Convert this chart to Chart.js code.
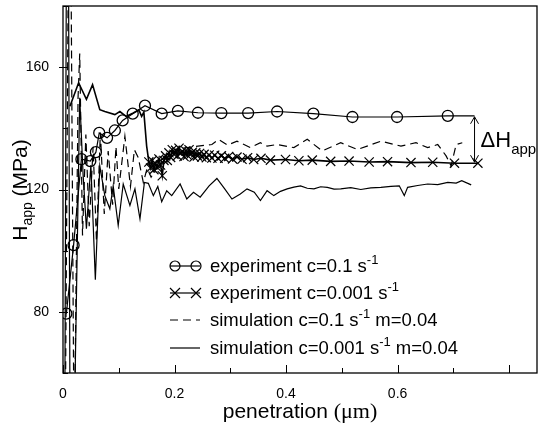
<!DOCTYPE html>
<html><head><meta charset="utf-8">
<script src="https://cdn.jsdelivr.net/npm/chart.js@4/dist/chart.umd.min.js"></script>
<style>html,body{margin:0;padding:0;background:#fff;}canvas{display:block;}</style>
</head><body>
<canvas id="c" width="538" height="433"></canvas>
<script>
// ---------- data ----------
const expFastX = [0.006,0.019,0.033,0.049,0.059,0.065,0.079,0.093,0.107,0.125,0.147,0.177,0.206,0.242,0.284,0.332,0.384,0.449,0.519,0.599,0.690,0.738];
const expFastY = [79.4,101.8,129.9,129.3,132.2,138.5,136.9,139.3,142.6,144.8,147.4,144.8,145.7,145.1,145.0,145.0,145.5,144.8,143.7,143.7,144.1,144.1];

const expSlowX = [0.0125,0.028,0.042,0.053,0.066,0.075,0.093,0.102,0.113,0.126,0.136,0.141,0.145,0.150,0.154,
  0.157,0.160,0.163,0.166,0.169,0.172,0.175,0.178,0.181,0.184,0.187,0.190,0.193,0.196,0.199,0.202,0.205,0.208,0.211,0.214,0.217,0.220,0.223,0.226,0.229,0.232,0.235,0.238,0.241,0.245,0.249,0.253,0.257,0.262,0.267,0.272,0.278,0.284,0.290,0.297,0.304,0.312,0.321,0.331,0.342,0.355,0.372,0.399,0.423,0.447,0.480,0.513,0.549,0.582,0.624,0.663,0.702,0.744];
const expSlowY = [147.2,154.9,149.5,154.3,146.1,145.5,144.5,145.5,143.9,145.0,146.0,143.9,145.3,134.2,129.0,
  127.0,129.5,126.5,128.5,127.2,130.0,128.0,124.5,129.5,131.0,129.5,132.0,130.5,133.0,131.5,132.8,131.0,133.5,131.8,132.5,130.8,132.6,131.2,133.0,131.5,132.2,130.6,132.0,131.0,131.8,130.6,131.5,130.4,131.3,130.3,131.2,130.2,131.0,130.2,130.8,130.0,130.6,129.9,130.4,129.8,130.2,129.6,129.8,129.4,129.6,129.2,129.3,129.0,129.1,128.8,128.9,128.6,128.6];

const simFastX = [0.004,0.012,0.020,0.027,0.030,0.035,0.041,0.047,0.054,0.060,0.067,0.074,0.081,0.089,0.095,0.100,0.111,0.121,0.128,0.135,0.144,0.151,0.158,0.166,0.175,0.187,0.200,0.215,0.235,0.255,0.267,0.279,0.295,0.312,0.336,0.354,0.366,0.384,0.414,0.438,0.465,0.498,0.528,0.550,0.570,0.606,0.633,0.654,0.672,0.687,0.696,0.705,0.716];
const simFastY = [40,260,30,150,164.5,105,138,108,134,103,138.6,112,132.6,115,134,120.2,137.4,121,133,130.4,122.3,127,124,126.5,129.5,131.5,133,133.5,134,134.5,134.7,136.4,134.5,135.8,133.7,135.3,134.2,134.7,133.7,136.4,132.6,135.3,133.1,134.5,135.8,134.2,135.3,133.7,134.7,131,127.7,134.7,135.3];

const simSlowX = [0.003,0.008,0.013,0.020,0.030,0.036,0.042,0.050,0.058,0.066,0.075,0.084,0.090,0.099,0.108,0.120,0.129,0.138,0.146,0.153,0.162,0.170,0.177,0.186,0.195,0.210,0.222,0.234,0.246,0.262,0.276,0.290,0.303,0.318,0.330,0.343,0.354,0.366,0.378,0.390,0.402,0.414,0.426,0.438,0.450,0.462,0.474,0.486,0.498,0.516,0.534,0.552,0.570,0.588,0.603,0.612,0.618,0.636,0.654,0.672,0.690,0.705,0.715,0.732];
const simSlowY = [30,300,20,40,150,125,107.2,128,90.5,127.7,118,113.7,121.2,108.3,121.8,114.8,120.2,110.4,122.3,122,118,121,116,119.6,118,121.8,116.9,119.1,117.5,121.2,123.6,120.2,116.9,118.5,120.2,119.1,116.4,119.6,118.0,119.4,120.2,120.8,121.2,120.4,120.2,120.9,120.7,120.1,120.2,120.6,120.0,120.5,120.7,121.0,121.2,118.0,120.7,121.3,121.8,121.6,122.3,122.1,122.9,121.5];

const xTickLabels = [0, 0.2, 0.4, 0.6, 0.8];
const yTickLabels = [80, 120, 160];
const legendLabels = [
  ['experiment c=0.1 s', '-1', ''],
  ['experiment c=0.001 s', '-1', ''],
  ['simulation c=0.1 s', '-1', ' m=0.04'],
  ['simulation c=0.001 s', '-1', ' m=0.04']
];

const SANS = "'Liberation Sans', Arial, Helvetica, sans-serif";
const SERIF = "'Liberation Serif', 'Times New Roman', serif";
const pts = (xs, ys) => xs.map((x, i) => ({x: x, y: ys[i]}));

function drawParts(ctx, parts, x, y) {
  let cx = x;
  for (const p of parts) {
    ctx.font = p[1] + 'px ' + (p[3] || SANS);
    ctx.fillText(p[0], cx, y + p[2]);
    cx += ctx.measureText(p[0]).width;
  }
  return cx;
}
function partsWidth(ctx, parts) {
  let w = 0;
  for (const p of parts) { ctx.font = p[1] + 'px ' + (p[3] || SANS); w += ctx.measureText(p[0]).width; }
  return w;
}

const decor = {
  id: 'decor',
  afterDraw(chart) {
    const ctx = chart.ctx, a = chart.chartArea, xs = chart.scales.x, ys = chart.scales.y;
    ctx.save();
    ctx.strokeStyle = '#000'; ctx.fillStyle = '#000';
    ctx.lineWidth = 1.3;
    ctx.strokeRect(a.left, a.top, a.right - a.left, a.bottom - a.top);
    ctx.lineWidth = 1;
    for (let i = 0; i <= 8; i++) {
      const v = i / 10, px = Math.round(xs.getPixelForValue(v)) + 0.5;
      const len = (i % 2 === 0) ? 8 : 5;
      ctx.beginPath(); ctx.moveTo(px, a.bottom); ctx.lineTo(px, a.bottom - len); ctx.stroke();
    }
    for (let v = 60; v <= 180; v += 20) {
      const py = Math.round(ys.getPixelForValue(v)) + 0.5;
      const major = yTickLabels.includes(v);
      ctx.beginPath();
      ctx.moveTo(a.left - (major ? 4 : 0), py); ctx.lineTo(a.left + 5, py); ctx.stroke();
    }
    ctx.textBaseline = 'alphabetic';
    const xt = [['penetration ', 21, 0], ['(\u03bcm)', 22, 0, SERIF]];
    const xw = partsWidth(ctx, xt);
    drawParts(ctx, xt, (a.left + a.right) / 2 - xw / 2, 418);
    ctx.save();
    ctx.translate(27, 0); ctx.rotate(-Math.PI / 2);
    const yt = [['H', 21, 0], ['app', 14, 5], [' (MPa)', 21, 0]];
    const yw = partsWidth(ctx, yt);
    drawParts(ctx, yt, -(190) - yw / 2, 0);
    ctx.restore();
    const rowY = [266, 293, 320, 348];
    ctx.lineWidth = 1.2;
    for (let r = 0; r < 4; r++) {
      const y = rowY[r];
      ctx.setLineDash(r === 2 ? [8, 5] : []);
      ctx.beginPath(); ctx.moveTo(170, y); ctx.lineTo(200, y); ctx.stroke();
      ctx.setLineDash([]);
      if (r === 0) {
        ctx.beginPath(); ctx.arc(175, y, 5, 0, Math.PI * 2); ctx.stroke();
        ctx.beginPath(); ctx.arc(196, y, 5, 0, Math.PI * 2); ctx.stroke();
      } else if (r === 1) {
        for (const cx of [175, 196]) {
          ctx.beginPath();
          ctx.moveTo(cx - 5, y - 5); ctx.lineTo(cx + 5, y + 5);
          ctx.moveTo(cx - 5, y + 5); ctx.lineTo(cx + 5, y - 5); ctx.stroke();
        }
      }
      const L = legendLabels[r];
      drawParts(ctx, [[L[0], 18.5, 0], [L[1], 13, -8], [L[2], 18.5, 0]], 210, y + 6);
    }
    const ax = xs.getPixelForValue(expFastX[expFastX.length - 1]);
    const yTop = ys.getPixelForValue(expFastY[expFastY.length - 1]);
    const yBot = ys.getPixelForValue(expSlowY[expSlowY.length - 1]);
    ctx.lineWidth = 1;
    ctx.beginPath(); ctx.moveTo(ax, yTop + 1); ctx.lineTo(ax, yBot - 1); ctx.stroke();
    ctx.beginPath();
    ctx.moveTo(ax - 4, yTop + 8); ctx.lineTo(ax, yTop + 1); ctx.lineTo(ax + 4, yTop + 8);
    ctx.moveTo(ax - 4, yBot - 8); ctx.lineTo(ax, yBot - 1); ctx.lineTo(ax + 4, yBot - 8);
    ctx.stroke();
    drawParts(ctx, [['\u0394H', 22, 0], ['app', 15, 7]], ax + 6, (yTop + yBot) / 2 + 8);
    ctx.restore();
  }
};

new Chart(document.getElementById('c'), {
  type: 'line',
  data: {
    datasets: [
      { label: 'experiment c=0.1 s-1', data: pts(expFastX, expFastY), borderColor: '#000', borderWidth: 1.2,
        pointStyle: 'circle', pointRadius: expFastX.map((x, i) => i === expFastX.length - 1 ? 0 : 5.5),
        pointBorderWidth: 1.3, pointBorderColor: '#000', pointBackgroundColor: 'rgba(0,0,0,0)', tension: 0 },
      { label: 'experiment c=0.001 s-1', data: pts(expSlowX, expSlowY), borderColor: '#000', borderWidth: 1.6,
        pointStyle: 'crossRot', pointRadius: ctx => (ctx.raw && ctx.raw.x < 0.152) ? 0 : 6.5,
        pointBorderWidth: 1.2, pointBorderColor: '#000', tension: 0 },
      { label: 'simulation c=0.1 s-1 m=0.04', data: pts(simFastX, simFastY), borderColor: '#000', borderWidth: 1.2,
        borderDash: [8, 5], pointRadius: 0, tension: 0 },
      { label: 'simulation c=0.001 s-1 m=0.04', data: pts(simSlowX, simSlowY), borderColor: '#000', borderWidth: 1.2,
        pointRadius: 0, tension: 0 }
    ]
  },
  options: {
    responsive: false, animation: false, devicePixelRatio: 1,
    layout: { autoPadding: false, padding: { left: 0, top: 6, right: 1, bottom: 0 } },
    plugins: { legend: { display: false }, tooltip: { enabled: false } },
    scales: {
      x: { type: 'linear', min: 0, max: 0.85,
        grid: { display: false }, border: { display: false },
        afterFit: s => { s.height = 60; s.paddingLeft = 0; s.paddingRight = 0; },
        ticks: { stepSize: 0.1, autoSkip: false, maxRotation: 0, padding: 5, color: '#000',
          font: { family: SANS, size: 14 },
          callback: v => xTickLabels.some(t => Math.abs(t - v) < 1e-6) ? String(Math.round(v * 10) / 10) : '' } },
      y: { type: 'linear', min: 60, max: 180,
        grid: { display: false }, border: { display: false },
        afterFit: s => { s.width = 63; s.paddingTop = 0; s.paddingBottom = 0; },
        ticks: { stepSize: 20, autoSkip: false, padding: 6, color: '#000',
          font: { family: SANS, size: 14 },
          callback: v => yTickLabels.includes(v) ? String(v) : '' } }
    }
  },
  plugins: [decor]
});
</script>
</body></html>
